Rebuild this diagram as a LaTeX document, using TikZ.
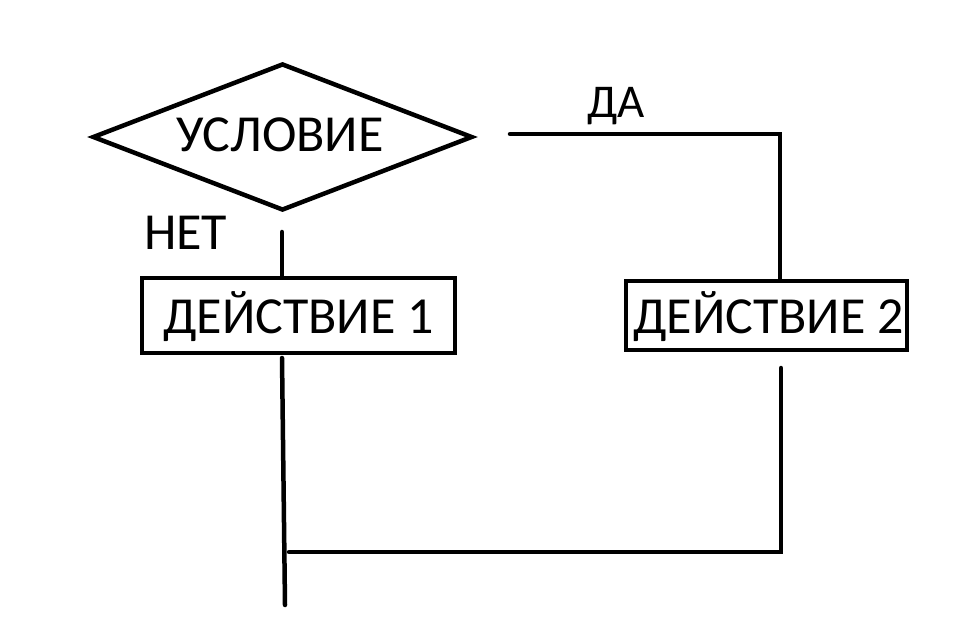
\documentclass[tikz,border=0pt]{standalone}
\usepackage{fontspec}
\setmainfont{Carlito}
\usetikzlibrary{shapes.geometric}
\begin{document}
\begin{tikzpicture}[x=1pt,y=-1pt,
  line/.style={line width=4.5pt, line cap=round},
  decision/.style={draw, line width=4.5pt, diamond, inner sep=0pt, minimum width=380pt, minimum height=147pt, line join=miter},
  actionbox/.style={draw, line width=4.5pt, rectangle, inner sep=0pt},
  lbl/.style={inner sep=0pt, anchor=base}]
\useasboundingbox (0,0) rectangle (971,628);
% decision
\node[decision] (cond) at (282.5,137) {};
\node[lbl, font=\fontsize{52}{62}\selectfont] (condtxt) at (280,152) {УСЛОВИЕ};
% action boxes
\node[actionbox, minimum width=313pt, minimum height=75pt] (act1) at (298.5,315.5) {};
\node[lbl, font=\fontsize{52}{62}\selectfont] (act1txt) at (298.5,333) {ДЕЙСТВИЕ 1};
\node[actionbox, minimum width=281pt, minimum height=69pt] (act2) at (766.5,315.5) {};
\node[lbl, font=\fontsize{52}{62}\selectfont] (act2txt) at (768.5,333) {ДЕЙСТВИЕ 2};
% labels
\node[lbl, font=\fontsize{52}{62}\selectfont] (no) at (185.5,250) {НЕТ};
\node[lbl, font=\fontsize{47}{56}\selectfont] (yes) at (616,118) {ДА};
% coordinates
\coordinate (nostart) at (282,232);
\coordinate (yesstart) at (510,134);
\coordinate (yescorner) at (780,134);
\coordinate (a1out) at (282,358);
\coordinate (endpt) at (285,605);
\coordinate (a2out) at (781,368);
\coordinate (joinR) at (781,552);
\coordinate (joinL) at (289,552);
% connectors
\draw[line] (nostart) -- (act1.north -| nostart);
\draw[line] (yesstart) -- (yescorner) -- (act2.north -| yescorner);
\draw[line] (a1out) -- (endpt);
\draw[line] (a2out) -- (joinR) -- (joinL);
\end{tikzpicture}
\end{document}
